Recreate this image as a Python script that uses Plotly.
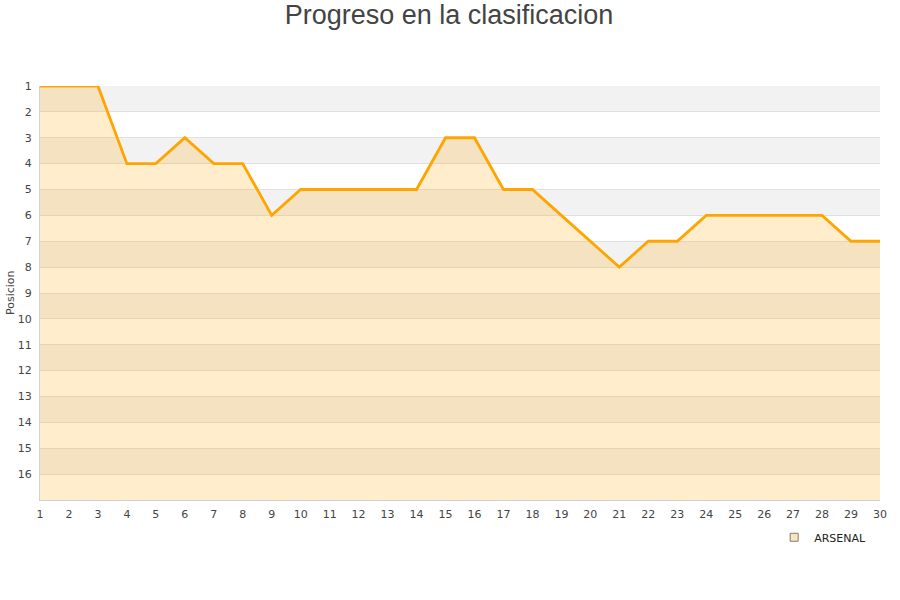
import plotly.graph_objects as go

jornadas = list(range(1, 31))
posiciones = [1, 1, 1, 4, 4, 3, 4, 4, 6, 5, 5, 5, 5, 5, 3, 3, 5, 5, 6, 7, 8, 7, 7, 6, 6, 6, 6, 6, 7, 7]
y_ticks = list(range(1, 17))
equipo = "ARSENAL"

fig = go.Figure()

# alternating bands
shapes = []
for k in range(1, 17, 2):
    shapes.append(dict(type="rect", xref="paper", yref="y", x0=0, x1=1, y0=k, y1=k + 1,
                       fillcolor="#f2f2f2", line_width=0, layer="below"))

# baseline for fill
fig.add_trace(go.Scatter(x=jornadas, y=[17] * len(jornadas), mode="lines",
                         line=dict(width=0, color="rgba(0,0,0,0)"), showlegend=False, hoverinfo="skip"))
fig.add_trace(go.Scatter(x=jornadas, y=posiciones, mode="lines", fill="tonexty",
                         fillcolor="rgba(255,165,0,0.2)", line=dict(color="#ffa500", width=2.8),
                         showlegend=False))
fig.add_trace(go.Scatter(x=[None], y=[None], mode="markers", name=equipo,
                         marker=dict(symbol="square", size=8, color="#f7e4c2",
                                     line=dict(color="#8a7a6a", width=1))))

fig.update_layout(
    width=900, height=600,
    paper_bgcolor="white", plot_bgcolor="white",
    margin=dict(l=40, r=20, t=86, b=100, autoexpand=False),
    title=dict(text="Progreso en la clasificacion", x=449 / 900, xanchor="center",
               y=1 - 15 / 600, yref="container", yanchor="middle",
               font=dict(family="Liberation Sans, Arial", size=27, color="#444444")),
    font=dict(family="DejaVu Sans, Arial", size=11, color="#444444"),
    shapes=shapes,
    showlegend=True,
    legend=dict(x=0.874, y=-0.055, xanchor="left", yanchor="top", bgcolor="rgba(0,0,0,0)",
                font=dict(size=11, color="#222222")),
    annotations=[dict(text="Posicion", xref="paper", yref="paper", x=-30 / 840, y=(500 - 293) / 414,
                      xanchor="center", yanchor="middle", textangle=-90, showarrow=False,
                      font=dict(size=11, color="#444444"))],
)
fig.update_xaxes(range=[1, 30], tickmode="array", tickvals=jornadas, showgrid=False,
                 zeroline=False, showline=True, linecolor="#d0d0d0", linewidth=1, automargin=False,
                 ticks="", ticklabelstandoff=4, tickfont=dict(size=11, color="#444444"), mirror=False)
fig.update_yaxes(range=[17, 1], tickmode="array", tickvals=y_ticks, showgrid=True,
                 gridcolor="#e0e0e0", gridwidth=1, zeroline=False, showline=True,
                 linecolor="#d0d0d0", linewidth=1, ticks="", automargin=False, ticklabelstandoff=5,
                 tickfont=dict(size=11, color="#444444"))

fig.write_html("out.html", config={"displayModeBar": False},
               post_script="document.body.style.margin='0';")
